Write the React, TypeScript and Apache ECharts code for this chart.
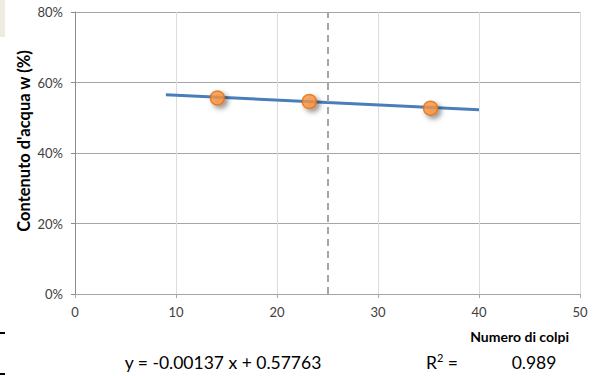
import React, { useEffect, useRef } from "react";
import * as echarts from "echarts";

const colpi = [14.1, 23.2, 35.2];
const contenuto = [55.6, 54.6, 52.7];
const trendX = [9, 40];
const trendY = [56.53, 52.28];
const limiteX = 25;
const yTicks = [0, 20, 40, 60, 80];
const xTicks = [0, 10, 20, 30, 40, 50];
const equazione = "y = -0.00137 x + 0.57763";
const r2 = "0.989";

const FONT = "Lato, 'Open Sans', sans-serif";

export default function App() {
  const ref = useRef<HTMLDivElement>(null);
  useEffect(() => {
    if (!ref.current) return;
    const chart = echarts.init(ref.current, undefined, { renderer: "svg" });
    chart.setOption({
      animation: false,
      backgroundColor: "#ffffff",
      grid: { left: 75, right: 23, top: 12, bottom: 82, containLabel: false },
      xAxis: {
        type: "value",
        min: xTicks[0],
        max: xTicks[xTicks.length - 1],
        interval: 10,
        axisLine: { show: true, lineStyle: { color: "#A6A6A6", width: 1 } },
        axisTick: { show: true, length: 4, lineStyle: { color: "#A6A6A6" } },
        axisLabel: { color: "#404040", fontSize: 13, fontFamily: FONT, margin: 11 },
        splitLine: { show: true, lineStyle: { color: "#DDDDDD", width: 1 } },
      },
      yAxis: {
        type: "value",
        min: yTicks[0],
        max: yTicks[yTicks.length - 1],
        interval: 20,
        axisLine: { show: true, lineStyle: { color: "#8C8C8C", width: 1 } },
        axisTick: { show: true, length: 4, lineStyle: { color: "#8C8C8C" } },
        axisLabel: {
          color: "#404040",
          fontSize: 13,
          fontFamily: FONT,
          margin: 12,
          formatter: "{value}%",
        },
        splitLine: { show: true, lineStyle: { color: "#A6A6A6", width: 1 } },
      },
      series: [
        {
          type: "line",
          data: trendX.map((x, i) => [x, trendY[i]]),
          symbol: "none",
          lineStyle: { color: "#4A7EBB", width: 3 },
          z: 2,
          markLine: {
            silent: true,
            symbol: "none",
            label: { show: false },
            lineStyle: { color: "#A6A6A6", type: [7, 5], width: 2 },
            data: [{ xAxis: limiteX }],
          },
        },
        {
          type: "scatter",
          data: colpi.map((x, i) => [x, contenuto[i]]),
          symbol: "circle",
          symbolSize: 14,
          itemStyle: {
            color: "#F79646",
            borderColor: "#E46C0A",
            borderWidth: 1.5,
            shadowBlur: 5,
            shadowColor: "rgba(0,0,0,0.5)",
            shadowOffsetX: 3,
            shadowOffsetY: 3,
          },
          z: 3,
        },
      ],
      graphic: [
        { type: "rect", shape: { x: 0, y: 0, width: 5, height: 37 }, style: { fill: "#EEEBE0" } },
        { type: "rect", shape: { x: 0, y: 332, width: 5, height: 2 }, style: { fill: "#000" } },
        { type: "rect", shape: { x: 0, y: 373, width: 5, height: 2 }, style: { fill: "#000" } },
        {
          type: "text",
          x: 24,
          y: 141,
          rotation: Math.PI / 2,
          style: {
            text: "Contenuto d'acqua w (%)",
            fontFamily: FONT,
            fontWeight: "bold",
            fontSize: 16.5,
            fill: "#000",
            textAlign: "center",
            textVerticalAlign: "middle",
          },
        },
        {
          type: "text",
          x: 569,
          y: 336,
          style: {
            text: "Numero di colpi",
            fontFamily: FONT,
            fontWeight: "bold",
            fontSize: 14,
            fill: "#000",
            textAlign: "right",
            textVerticalAlign: "middle",
          },
        },
        {
          type: "text",
          x: 223,
          y: 362,
          style: {
            text: equazione,
            fontFamily: FONT,
            fontSize: 17.5,
            fill: "#000",
            textAlign: "center",
            textVerticalAlign: "middle",
          },
        },
        {
          type: "text",
          x: 426,
          y: 362,
          style: {
            text: "R{sup|2} =",
            fontFamily: FONT,
            fontSize: 17.5,
            fill: "#000",
            textAlign: "left",
            textVerticalAlign: "middle",
            rich: {
              sup: { fontSize: 11, fontFamily: FONT, fill: "#000", verticalAlign: "top", padding: [0, 0, 9, 0] },
            },
          },
        },
        {
          type: "text",
          x: 534,
          y: 362,
          style: {
            text: r2,
            fontFamily: FONT,
            fontSize: 17.5,
            fill: "#000",
            textAlign: "center",
            textVerticalAlign: "middle",
          },
        },
      ],
    });
    return () => chart.dispose();
  }, []);
  return <div ref={ref} style={{ width: 603, height: 376, position: "absolute", left: 0, top: 0 }} />;
}
